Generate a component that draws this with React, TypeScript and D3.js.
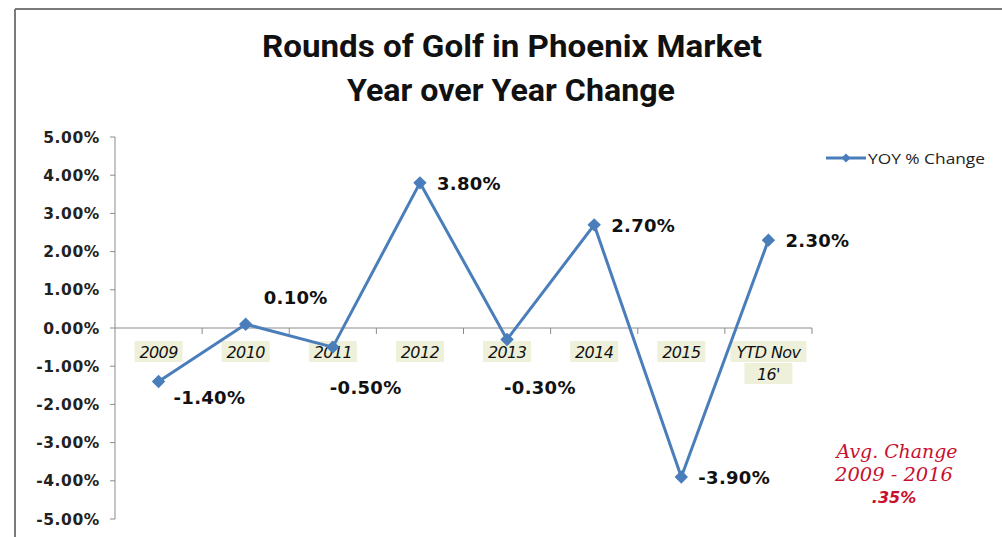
import React from "react";
import * as d3 from "d3";

const categories: string[][] = [["2009"], ["2010"], ["2011"], ["2012"], ["2013"], ["2014"], ["2015"], ["YTD Nov", "16'"]];
const yoyValues: number[] = [-1.4, 0.1, -0.5, 3.8, -0.3, 2.7, -3.9, 2.3];
const labelPlacement: string[] = ["belowRight", "aboveRight", "belowAxis", "right", "belowAxis", "right", "right", "right"];
const yTicks: number[] = [5, 4, 3, 2, 1, 0, -1, -2, -3, -4, -5];
const titleLines: string[] = ["Rounds of Golf in Phoenix Market", "Year over Year Change"];
const seriesName = "YOY % Change";
const noteLines: string[] = ["Avg. Change", "2009 - 2016", ".35%"];

const W = 1002;
const H = 537;
const LINE = "#4a7ebb";
const AXIS = "#8c8c8c";
const NOTE = "#c8102e";

export default function App() {
  const keys = categories.map((c) => c.join(" "));
  const x = d3.scaleBand<string>().domain(keys).range([115, 812]).padding(0);
  const y = d3.scaleLinear().domain([-5, 5]).range([519, 137]);
  const cx = (i: number) => (x(keys[i]) as number) + x.bandwidth() / 2;
  const line = d3
    .line<number>()
    .x((_, i) => cx(i))
    .y((d) => y(d));
  const diamond = d3.symbol().type(d3.symbolSquare).size(90)();
  const smallDiamond = d3.symbol().type(d3.symbolSquare).size(42)();
  const fmt = (v: number) => v.toFixed(2) + "%";

  const labelPos = (i: number) => {
    const px = cx(i);
    const py = y(yoyValues[i]);
    switch (labelPlacement[i]) {
      case "belowRight":
        return { lx: px + 15, ly: py + 23 };
      case "aboveRight":
        return { lx: px + 18, ly: py - 20 };
      case "belowAxis":
        return { lx: px - 3, ly: y(0) + 66 };
      default:
        return { lx: px + 17, ly: py + 7 };
    }
  };

  return (
    <svg width={W} height={H} style={{ position: "absolute", left: 0, top: 0, background: "#fff" }}>
      <rect x={0} y={0} width={W} height={H} fill="#fff" />
      {/* frame */}
      <line x1={15} y1={9} x2={W} y2={9} stroke="#7a7a7a" strokeWidth={2} />
      <line x1={15} y1={9} x2={15} y2={H} stroke="#7a7a7a" strokeWidth={2} />

      {/* title */}
      <g fontFamily="'Roboto', sans-serif" fontWeight="bold" fill="#111" textAnchor="middle">
        <text x={512} y={57} fontSize={32} textLength={500} lengthAdjust="spacingAndGlyphs">{titleLines[0]}</text>
        <text x={511} y={101} fontSize={32} textLength={328} lengthAdjust="spacingAndGlyphs">{titleLines[1]}</text>
      </g>

      {/* y axis */}
      <line x1={115} y1={y(5)} x2={115} y2={y(-5)} stroke={AXIS} strokeWidth={1} />
      {yTicks.map((t) => (
        <g key={"yt" + t}>
          <line x1={110} x2={115} y1={y(t)} y2={y(t)} stroke={AXIS} />
          <text x={100} y={y(t) + 5.5} textAnchor="end" fontFamily="'DejaVu Sans', sans-serif" fontWeight="bold" fontSize={15.5} fill="#222" letterSpacing={0.6}>
            {fmt(t)}
          </text>
        </g>
      ))}

      {/* x axis */}
      <line x1={115} x2={812} y1={y(0)} y2={y(0)} stroke={AXIS} strokeWidth={1} />
      {keys.map((k, i) => (
        <line key={"xt" + i} x1={(x(k) as number) + x.bandwidth()} x2={(x(k) as number) + x.bandwidth()} y1={y(0)} y2={y(0) + 6} stroke={AXIS} />
      ))}
      {categories.map((c, i) => (
        <g key={"cl" + i}>
          {c.map((s, j) => (
            <rect key={j} x={cx(i) - (s.length > 4 ? 38 : 24)} y={y(0) + 13 + j * 22} width={s.length > 4 ? 76 : 48} height={21} fill="#eef0da" />
          ))}
          {c.map((s, j) => (
            <text key={"t" + j} x={cx(i)} y={y(0) + 30 + j * 22} textAnchor="middle" fontFamily="'DejaVu Sans', sans-serif" fontStyle="italic" fontSize={16} fill="#111" letterSpacing={-0.6}>
              {s}
            </text>
          ))}
        </g>
      ))}

      {/* series line */}
      <path d={line(yoyValues) as string} fill="none" stroke={LINE} strokeWidth={3} strokeLinejoin="round" />
      {yoyValues.map((v, i) => (
        <path key={"m" + i} d={diamond as string} transform={`translate(${cx(i)},${y(v)}) rotate(45)`} fill={LINE} />
      ))}

      {/* data labels */}
      {yoyValues.map((v, i) => {
        const { lx, ly } = labelPos(i);
        return (
          <text key={"dl" + i} x={lx} y={ly} fontFamily="'DejaVu Sans', sans-serif" fontWeight="bold" fontSize={18} fill="#111" letterSpacing={0.3}>
            {fmt(v)}
          </text>
        );
      })}

      {/* legend */}
      <line x1={826} x2={866} y1={158} y2={158} stroke={LINE} strokeWidth={3} />
      <path d={smallDiamond as string} transform="translate(846,158) rotate(45)" fill={LINE} />
      <text x={868} y={164} fontFamily="'Open Sans', sans-serif" fontSize={15} fill="#222" textLength={117} lengthAdjust="spacingAndGlyphs">
        {seriesName}
      </text>

      {/* note */}
      <g fill={NOTE} textAnchor="middle">
        <text x={897} y={458} fontFamily="'DejaVu Serif', serif" fontStyle="italic" fontSize={18.5} textLength={121} lengthAdjust="spacingAndGlyphs">{noteLines[0]}</text>
        <text x={894} y={481} fontFamily="'DejaVu Serif', serif" fontStyle="italic" fontSize={18.5} textLength={118} lengthAdjust="spacingAndGlyphs">{noteLines[1]}</text>
        <text x={894} y={503} fontFamily="'DejaVu Sans', sans-serif" fontStyle="italic" fontWeight="bold" fontSize={16}>{noteLines[2]}</text>
      </g>
    </svg>
  );
}
